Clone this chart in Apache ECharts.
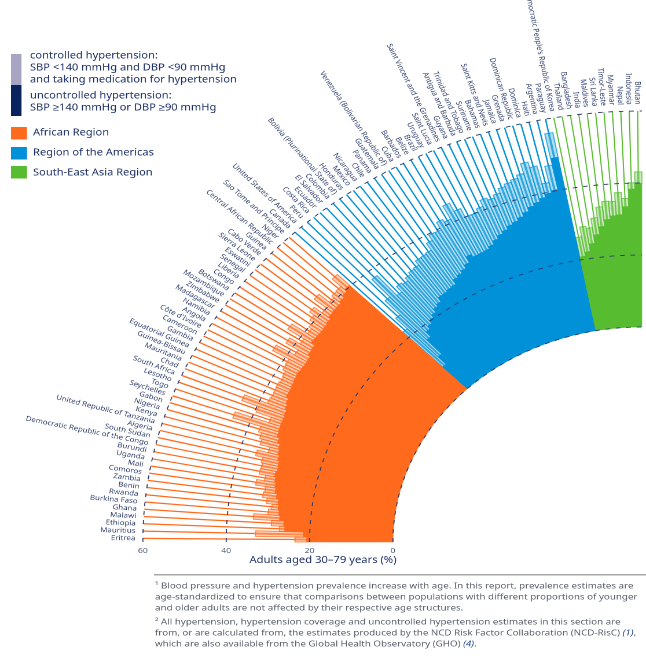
<!DOCTYPE html>
<html><head><meta charset="utf-8">
<style>html,body{margin:0;padding:0;background:#fff;overflow:hidden;width:646px;height:667px}
#c{width:558px;height:667px;transform:scaleX(1.1577);transform-origin:0 0;filter:blur(0.25px)}</style>
<script src="https://cdn.jsdelivr.net/npm/echarts@6/dist/echarts.min.js"></script>
</head><body><div id="c"></div>
<script>
const african = ["Eritrea","Mauritius","Ethiopia","Malawi","Ghana","Burkina Faso","Rwanda","Benin","Zambia","Comoros","Mali","Uganda","Burundi","Democratic Republic of the Congo","South Sudan","Algeria","United Republic of Tanzania","Kenya","Nigeria","Gabon","Seychelles","Togo","Lesotho","South Africa","Chad","Mauritania","Guinea-Bissau","Equatorial Guinea","Gambia","Cameroon","Côte d'Ivoire","Angola","Namibia","Madagascar","Zimbabwe","Mozambique","Botswana","Congo","Liberia","Senegal","Eswatini","Sierra Leone","Cabo Verde","Guinea","Central African Republic","Niger","Sao Tome and Principe"];
const americas = ["Canada","United States of America","Peru","Costa Rica","Ecuador","El Salvador","Colombia","Bolivia (Plurinational State of)","Honduras","Mexico","Nicaragua","Chile","Panama","Guatemala","Venezuela (Bolivarian Republic of)","Cuba","Barbados","Belize","Brazil","Uruguay","Saint Lucia","Saint Vincent and the Grenadines","Guyana","Antigua and Barbuda","Trinidad and Tobago","Suriname","Bahamas","Saint Kitts and Nevis","Jamaica","Grenada","Dominican Republic","Dominica","Haiti","Argentina","Paraguay"];
const seAsia = ["Democratic People's Republic of Korea","Thailand","Bangladesh","India","Maldives","Sri Lanka","Timor-Leste","Myanmar","Nepal","Indonesia","Bhutan"];

const africanUncontrolled = [20.7,21.5,26,26.3,27.4,27.7,28,28.2,28.8,29.3,29.6,29.9,30.2,29.9,30.1,30.5,30.9,31.2,31.9,32.5,32.7,32.8,32.8,33,33.5,33.9,34.6,34.6,34.8,35,35.2,35,34.9,35,35.7,35.9,37,36.9,36.8,37,37.3,38,38.2,38.3,38.8,39.5,40.3];
const africanTotal = [23.5,33,27.3,29.3,33.7,30.3,29.6,31,32.1,31.8,34.3,32.4,34,33.9,34.2,36,33.3,35.8,36.4,37.2,44.3,35.7,39.6,44,38,37.8,37.9,38,37.7,38,38.8,39,43.6,38.5,42,39,43.8,39.2,40,41,42.4,40,43.9,40.6,41.3,41.5,44.5];
const americasUncontrolled = [8.4,11.2,16.5,18.3,19.2,20.2,21,22,22.6,23.9,24,24.4,24.6,26,26.5,27.2,28.2,30,29.2,29.3,29.5,30.2,31.2,32.1,32.8,33.7,34.2,35,36,37.1,37.8,38.7,39.6,40.2,49];
const americasTotal = [22,26,31.3,37.8,30.5,32.5,32,33,33.7,34,35.4,35.5,35.8,38,39.6,39.5,41.8,41,45.1,42.6,40,39.9,41,42.8,42.2,43,44.3,45,45.6,46.5,49.3,47.7,42.6,47.2,56];
const seAsiaUncontrolled = [20.8,21.9,24,26.3,28.4,30.2,31.1,31.3,33.5,38.3,39.9];
const seAsiaTotal = [26.3,29,28.4,31,33.9,35.3,35.1,37.5,35.8,40.1,43.1];
const radiusTicks = [0,20,40,60];

const ORANGE='#ff6a1c', BLUE='#0091d8', GREEN='#57bc2f';
const categories = african.concat(americas, seAsia);
const uncontrolled = africanUncontrolled.concat(americasUncontrolled, seAsiaUncontrolled);
const total = africanTotal.concat(americasTotal, seAsiaTotal);
const isGreen = i => i >= african.length + americas.length;
const colorOf = i => i < african.length ? ORANGE : (i < african.length + americas.length ? BLUE : GREEN);
const lightOf = i => i < african.length ? 'rgba(255,106,28,0.3)' : (i < african.length + americas.length ? 'rgba(0,145,216,0.3)' : 'rgba(87,188,47,0.3)');
const strongOf = i => i < african.length ? 'rgba(255,106,28,0.72)' : (i < african.length + americas.length ? 'rgba(0,145,216,0.72)' : 'rgba(87,188,47,0.72)');

const chart = echarts.init(document.getElementById('c'), null, {devicePixelRatio:2});
const textBase = {fontFamily:'"Noto Sans",sans-serif'};
function txt(x,y,text,size,fill,extra){return {type:'text',x,y,silent:true,style:Object.assign({text,fontSize:size,fill,fontFamily:textBase.fontFamily,textVerticalAlign:'middle'},extra||{})};}
const SX=1/1.1577;
const legendItems=[
 [30,56,'controlled hypertension:'],[30,68,'SBP <140 mmHg and DBP <90 mmHg'],[30,80,'and taking medication for hypertension'],
 [30,96,'uncontrolled hypertension:'],[30,108,'SBP ≥140 mmHg or DBP ≥90 mmHg'],
 [33,133,'African Region'],[33,153,'Region of the Americas'],[33,173,'South-East Asia Region']];
const footLines=[
 [586,'¹ Blood pressure and hypertension prevalence increase with age. In this report, prevalence estimates are'],
 [597,'age-standardized to ensure that comparisons between populations with different proportions of younger'],
 [608,'and older adults are not affected by their respective age structures.'],
 [622,'² All hypertension, hypertension coverage and uncontrolled hypertension estimates in this section are'],
 [633,'from, or are calculated from, the estimates produced by the NCD Risk Factor Collaboration (NCD-RisC) {i|(1)},'],
 [644,'which are also available from the Global Health Observatory (GHO) {i|(4)}.']];
const rect=(x,y,w,h,fill)=>({type:'rect',silent:true,shape:{x:x*SX,y,width:w*SX,height:h},style:{fill}});
const graphics=[
 rect(11,54,10.5,31,'#a7a5c3'),rect(11,85,10.5,31,'#08235e'),
 rect(11,127,16,12.5,ORANGE),rect(11,147,16,12.5,BLUE),rect(11,166,16,12.5,GREEN),
 rect(154,574,492,1.5,'#a9a9a9'),
 ...legendItems.map(l=>txt(l[0]*SX,l[1],l[2],9.6,'#1c2f66')),
 ...footLines.map(l=>txt(155*SX,l[0],l[1],8.45,'#5a5f6a',{rich:{i:{fontStyle:'italic',fontSize:8.45,fill:'#2b4a8a',fontFamily:textBase.fontFamily}}})),
 txt(323*SX,560,'Adults aged 30–79 years (%)',9.7,'#1c2f66',{textAlign:'center'})
];

chart.setOption({
 animation:false,
 backgroundColor:'#fff',
 polar:{center:[554.4,542],radius:[215,431]},
 angleAxis:{type:'category',data:categories,startAngle:180,endAngle:90,clockwise:true,boundaryGap:true,
   axisLine:{show:false},axisTick:{show:false},axisLabel:{show:false},splitLine:{show:false}},
 radiusAxis:{type:'value',min:0,max:60,interval:20,z:8,
   axisLine:{show:false},axisTick:{show:false},
   axisLabel:{show:true,fontSize:7.5,color:'#55607f',fontFamily:textBase.fontFamily,margin:5,
     customValues:radiusTicks},
   splitLine:{show:true,lineStyle:{color:'#2d3c6e',width:0.9,type:[4,5]}}},
 graphic:graphics,
 series:[
  {name:'uncontrolled',type:'bar',coordinateSystem:'polar',stack:'s',barWidth:'100%',z:3,
   data:uncontrolled.map((u,i)=>({value:u,itemStyle:{color:colorOf(i),borderColor:colorOf(i),borderWidth:0.5}}))},
  {name:'controlled',type:'bar',coordinateSystem:'polar',stack:'s',barWidth:'100%',z:1,
   data:total.map((t,i)=>({value:t-uncontrolled[i],itemStyle:{color:lightOf(i),borderColor:strongOf(i),borderWidth:1}}))},
  {name:'hatch',type:'custom',coordinateSystem:'polar',z:2,clip:false,silent:true,
   data:uncontrolled.map((u,i)=>[u,i,total[i]]),
   renderItem:(p,api)=>{const i=api.value(1);const a=api.coord([api.value(0),i]),b=api.coord([api.value(2),i]);
     return {type:'line',shape:{x1:a[0],y1:a[1],x2:b[0],y2:b[1]},style:{stroke:strongOf(i),lineWidth:1.9}};}},
  {name:'spokes',type:'custom',coordinateSystem:'polar',z:2,clip:false,silent:true,
   data:total.map((t,i)=>[t,i]),
   renderItem:(p,api)=>{const i=api.value(1);const a=api.coord([api.value(0),i]),b=api.coord([60,i]);
     return {type:'line',shape:{x1:a[0],y1:a[1],x2:b[0],y2:b[1]},style:{stroke:colorOf(i),lineWidth:isGreen(i)?1:1.25}};}},
  {name:'labels',type:'custom',coordinateSystem:'polar',z:4,clip:false,silent:true,
   data:categories.map((c,i)=>[61.8,i]),
   renderItem:(p,api)=>{const i=api.value(1);const a=api.coord([api.value(0),i]);const cs=p.coordSys;
     const phi=Math.atan2(cs.cy-a[1],cs.cx-a[0]);
     return {type:'text',x:a[0],y:a[1],rotation:-phi,silent:true,
       style:{text:categories[i],textAlign:'right',textVerticalAlign:'middle',fontSize:6.8,fill:'#33426f',fontFamily:textBase.fontFamily}};}}
 ]
});
</script></body></html>
